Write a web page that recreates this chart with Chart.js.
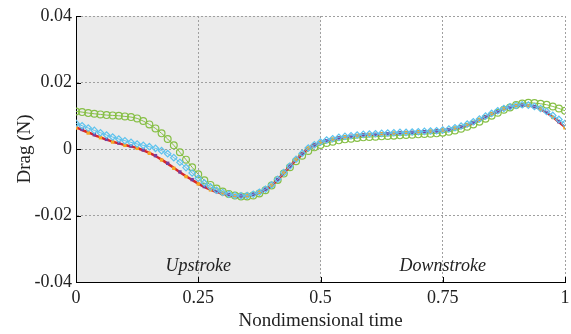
<!DOCTYPE html>
<html>
<head>
<meta charset="utf-8">
<script src="https://cdn.jsdelivr.net/npm/chart.js@4.4.0/dist/chart.umd.min.js"></script>
<style>
  html, body { margin: 0; padding: 0; background: #fff; }
  #wrap { width: 571px; height: 334px; }
</style>
</head>
<body>
<div id="wrap"><canvas id="c" width="571" height="334"></canvas></div>
<script>
// Nondimensional time over one flapping cycle
const time = [0,0.0125,0.025,0.0375,0.05,0.0625,0.075,0.0875,0.1,0.1125,0.125,0.1375,0.15,0.1625,0.175,0.1875,0.2,0.2125,0.225,0.2375,0.25,0.2625,0.275,0.2875,0.3,0.3125,0.325,0.3375,0.35,0.3625,0.375,0.3875,0.4,0.4125,0.425,0.4375,0.45,0.4625,0.475,0.4875,0.5,0.5125,0.525,0.5375,0.55,0.5625,0.575,0.5875,0.6,0.6125,0.625,0.6375,0.65,0.6625,0.675,0.6875,0.7,0.7125,0.725,0.7375,0.75,0.7625,0.775,0.7875,0.8,0.8125,0.825,0.8375,0.85,0.8625,0.875,0.8875,0.9,0.9125,0.925,0.9375,0.95,0.9625,0.975,0.9875,1];

// Drag (N) for each case
const dragRed = [
  0.0065,0.0057,0.0050,0.0042,0.0035,0.0028,0.0022,0.0017,0.0012,0.0008,
  0.0003,-0.0004,-0.0012,-0.0021,-0.0032,-0.0044,-0.0057,-0.0070,-0.0082,-0.0093,
  -0.0104,-0.0114,-0.0122,-0.0129,-0.0134,-0.0138,-0.0141,-0.0142,-0.0141,-0.0137,
  -0.0131,-0.0122,-0.0110,-0.0092,-0.0072,-0.0052,-0.0033,-0.0015,0.0002,0.0012,
  0.0020,0.0025,0.0029,0.0033,0.0036,0.0038,0.0040,0.0042,0.0043,0.0044,
  0.0045,0.0046,0.0047,0.0048,0.0049,0.0050,0.0051,0.0052,0.0053,0.0054,
  0.0056,0.0059,0.0062,0.0067,0.0072,0.0080,0.0088,0.0097,0.0105,0.0113,
  0.0120,0.0126,0.0130,0.0132,0.0131,0.0127,0.0120,0.0109,0.0096,0.0081,
  0.0066];
const dragOrange = [
  0.0063,0.0055,0.0048,0.0041,0.0034,0.0027,0.0021,0.0016,0.0011,0.0007,
  0.0002,-0.0005,-0.0013,-0.0022,-0.0033,-0.0045,-0.0058,-0.0071,-0.0083,-0.0094,
  -0.0105,-0.0115,-0.0123,-0.0130,-0.0135,-0.0139,-0.0141,-0.0142,-0.0141,-0.0137,
  -0.0130,-0.0121,-0.0109,-0.0091,-0.0071,-0.0051,-0.0032,-0.0014,0.0003,0.0013,
  0.0020,0.0026,0.0030,0.0034,0.0037,0.0039,0.0041,0.0043,0.0044,0.0045,
  0.0046,0.0047,0.0048,0.0049,0.0050,0.0051,0.0052,0.0053,0.0054,0.0055,
  0.0057,0.0060,0.0063,0.0068,0.0073,0.0081,0.0089,0.0098,0.0106,0.0114,
  0.0121,0.0127,0.0131,0.0132,0.0130,0.0126,0.0119,0.0108,0.0095,0.0080,
  0.0064];
const dragPurple = [
  0.0067,0.0059,0.0051,0.0043,0.0036,0.0029,0.0023,0.0018,0.0013,0.0009,
  0.0004,-0.0003,-0.0011,-0.0020,-0.0031,-0.0043,-0.0056,-0.0069,-0.0081,-0.0092,
  -0.0103,-0.0113,-0.0121,-0.0128,-0.0133,-0.0137,-0.0140,-0.0141,-0.0140,-0.0136,
  -0.0130,-0.0121,-0.0109,-0.0092,-0.0072,-0.0052,-0.0033,-0.0015,0.0002,0.0012,
  0.0020,0.0025,0.0029,0.0033,0.0036,0.0038,0.0040,0.0042,0.0043,0.0044,
  0.0045,0.0046,0.0047,0.0048,0.0049,0.0050,0.0051,0.0052,0.0053,0.0054,
  0.0056,0.0058,0.0062,0.0066,0.0071,0.0079,0.0087,0.0096,0.0104,0.0112,
  0.0119,0.0125,0.0129,0.0131,0.0130,0.0127,0.0120,0.0110,0.0097,0.0082,
  0.0067];
const dragCyan = [
  0.0077,0.0070,0.0063,0.0056,0.0049,0.0042,0.0036,0.0030,0.0025,0.0020,
  0.0015,0.0011,0.0007,0.0002,-0.0005,-0.0014,-0.0026,-0.0040,-0.0056,-0.0072,
  -0.0088,-0.0102,-0.0114,-0.0124,-0.0131,-0.0136,-0.0140,-0.0141,-0.0140,-0.0136,
  -0.0130,-0.0121,-0.0108,-0.0091,-0.0071,-0.0051,-0.0031,-0.0013,0.0003,0.0013,
  0.0021,0.0027,0.0031,0.0035,0.0038,0.0040,0.0042,0.0044,0.0045,0.0046,
  0.0047,0.0048,0.0049,0.0050,0.0050,0.0051,0.0052,0.0053,0.0054,0.0055,
  0.0057,0.0060,0.0064,0.0069,0.0075,0.0082,0.0090,0.0099,0.0107,0.0115,
  0.0122,0.0127,0.0131,0.0133,0.0132,0.0128,0.0122,0.0113,0.0101,0.0089,
  0.0077];
const dragGreen = [
  0.0113,0.0111,0.0108,0.0106,0.0104,0.0102,0.0101,0.0100,0.0098,0.0096,
  0.0092,0.0084,0.0074,0.0062,0.0047,0.0030,0.0011,-0.0010,-0.0032,-0.0055,
  -0.0076,-0.0094,-0.0108,-0.0119,-0.0128,-0.0135,-0.0140,-0.0143,-0.0143,-0.0140,
  -0.0134,-0.0124,-0.0110,-0.0093,-0.0074,-0.0055,-0.0037,-0.0020,-0.0006,0.0005,
  0.0012,0.0018,0.0022,0.0026,0.0029,0.0031,0.0033,0.0035,0.0036,0.0037,
  0.0038,0.0039,0.0040,0.0041,0.0042,0.0043,0.0044,0.0045,0.0046,0.0047,
  0.0049,0.0052,0.0056,0.0061,0.0067,0.0074,0.0082,0.0091,0.0100,0.0109,
  0.0118,0.0125,0.0132,0.0137,0.0139,0.0138,0.0136,0.0133,0.0128,0.0122,
  0.0115];

// Axis ticks
const xTicks = [0, 0.25, 0.5, 0.75, 1];
const xTickLabels = ['0', '0.25', '0.5', '0.75', '1'];
const yTicks = [-0.04, -0.02, 0, 0.02, 0.04];
const yTickLabels = ['-0.04', '-0.02', '0', '0.02', '0.04'];

// Stroke phases
const phaseNames = ['Upstroke', 'Downstroke'];
const phaseStart = [0, 0.5];
const phaseEnd = [0.5, 1];

const SERIF = '"Liberation Serif", "DejaVu Serif", serif';
const pts = arr => arr.map((v, i) => ({ x: time[i], y: v }));

const phasePlugin = {
  id: 'phases',
  beforeDraw(chart) {
    const { ctx, chartArea: a, scales: { x } } = chart;
    ctx.save();
    ctx.fillStyle = '#ebebeb';
    const x0 = x.getPixelForValue(phaseStart[0]);
    const x1 = x.getPixelForValue(phaseEnd[0]);
    ctx.fillRect(x0, a.top, x1 - x0, a.bottom - a.top);
    ctx.restore();
  },
  afterDraw(chart) {
    const { ctx, chartArea: a, scales: { x, y } } = chart;
    ctx.save();
    // inward tick marks
    ctx.strokeStyle = '#000';
    ctx.lineWidth = 1;
    ctx.beginPath();
    xTicks.forEach(v => {
      const px = Math.round(x.getPixelForValue(v)) + 0.5;
      ctx.moveTo(px, a.bottom);
      ctx.lineTo(px, a.bottom - 5);
    });
    yTicks.forEach(v => {
      const py = Math.round(y.getPixelForValue(v)) + 0.5;
      ctx.moveTo(a.left, py);
      ctx.lineTo(a.left + 5, py);
    });
    ctx.stroke();
    // phase names
    ctx.fillStyle = '#222';
    ctx.font = 'italic 18px ' + SERIF;
    ctx.textAlign = 'center';
    ctx.textBaseline = 'middle';
    phaseNames.forEach((name, i) => {
      const cx = x.getPixelForValue((phaseStart[i] + phaseEnd[i]) / 2);
      ctx.fillText(name, cx, a.bottom - 16);
    });
    ctx.restore();
  }
};

const squareOn = parity => ctx => (ctx.dataIndex % 2 === parity ? 2.4 : 0);

new Chart(document.getElementById('c'), {
  type: 'line',
  data: {
    datasets: [
      {
        label: 'cyan', data: pts(dragCyan),
        borderColor: '#5ec3ee', borderWidth: 1, backgroundColor: 'rgba(0,0,0,0)',
        pointStyle: 'rectRot', pointRadius: 3.2, pointBorderWidth: 1.2,
        pointBorderColor: '#5ec3ee', pointBackgroundColor: 'rgba(0,0,0,0)',
        tension: 0.3
      },
      {
        label: 'purple', data: pts(dragPurple),
        borderColor: 'rgba(0,0,0,0)', borderWidth: 0, showLine: false,
        pointStyle: 'rect', pointRadius: squareOn(1), pointBorderWidth: 0,
        pointBackgroundColor: '#7d3c98', pointBorderColor: '#7d3c98'
      },
      {
        label: 'orange', data: pts(dragOrange),
        borderColor: 'rgba(0,0,0,0)', borderWidth: 0, showLine: false,
        pointStyle: 'rect', pointRadius: squareOn(0), pointBorderWidth: 0,
        pointBackgroundColor: '#f5a623', pointBorderColor: '#f5a623'
      },
      {
        label: 'red', data: pts(dragRed),
        borderColor: '#d9262a', borderWidth: 2.5, backgroundColor: 'rgba(0,0,0,0)',
        pointRadius: 0, tension: 0.3
      },
      {
        label: 'green', data: pts(dragGreen),
        borderColor: '#86bf45', borderWidth: 1, backgroundColor: 'rgba(0,0,0,0)',
        pointStyle: 'circle', pointRadius: 3.4, pointBorderWidth: 1.2,
        pointBorderColor: '#86bf45', pointBackgroundColor: 'rgba(0,0,0,0)',
        tension: 0.3
      }
    ]
  },
  options: {
    responsive: false,
    animation: false,
    devicePixelRatio: 1,
    layout: { padding: { top: 16, right: 6, left: 0, bottom: 0 } },
    plugins: { legend: { display: false }, tooltip: { enabled: false } },
    scales: {
      x: {
        type: 'linear', min: 0, max: 1,
        afterBuildTicks: s => { s.ticks = xTicks.map(v => ({ value: v })); },
        afterFit: s => { s.height = 52; s.paddingLeft = 0; s.paddingRight = 0; },
        ticks: {
          callback: (v, i) => xTickLabels[i],
          font: { family: SERIF, size: 18 }, color: '#222', padding: 5, maxRotation: 0
        },
        grid: { color: '#a0a0a0', lineWidth: 1, drawTicks: false },
        border: { display: true, color: '#000', width: 1, dash: [2, 2] },
        title: {
          display: true, text: 'Nondimensional time',
          font: { family: SERIF, size: 19 }, color: '#222',
          padding: { top: 0, bottom: 2 }
        }
      },
      y: {
        type: 'linear', min: -0.04, max: 0.04,
        afterBuildTicks: s => { s.ticks = yTicks.map(v => ({ value: v })); },
        afterFit: s => { s.width = 76; s.paddingTop = 0; s.paddingBottom = 0; },
        ticks: {
          callback: (v, i) => yTickLabels[i],
          font: { family: SERIF, size: 18 }, color: '#222', padding: 4
        },
        grid: { color: '#a0a0a0', lineWidth: 1, drawTicks: false },
        border: { display: true, color: '#000', width: 1, dash: [2, 2] },
        title: {
          display: true, text: 'Drag (N)',
          font: { family: SERIF, size: 19 }, color: '#222',
          padding: { top: 14, bottom: 0 }
        }
      }
    }
  },
  plugins: [phasePlugin]
});
</script>
</body>
</html>
